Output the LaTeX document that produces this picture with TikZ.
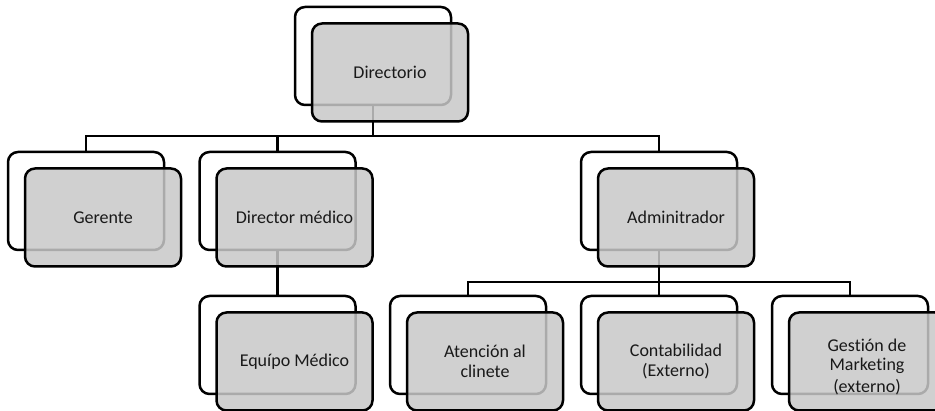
\documentclass[tikz,border=0pt]{standalone}
\usepackage{fontspec}
\setmainfont{Carlito}[Ligatures=NoCommon]
\definecolor{boxgray}{RGB}{200,200,200}
\tikzset{
  backbox/.style={draw=black, fill=white, line width=2.5pt, rounded corners=10pt,
    minimum width=156pt, minimum height=98pt, inner sep=0pt},
  frontbox/.style={backbox, fill=boxgray, fill opacity=0.85, text opacity=1,
    text=black!90, font=\fontsize{18}{20}\selectfont, align=center},
  label/.style={text=black!90, font=\fontsize{18}{19}\selectfont, align=center, inner sep=0pt},
  link/.style={line width=2.5pt}
}
\begin{document}
\begin{tikzpicture}[x=1pt, y=-1pt]
  \useasboundingbox (0,0) rectangle (935,411);
  \clip (0,0) rectangle (935,411);

  % back (outline) cards
  \node[backbox] (dirB) at (373,56)    {};
  \node[backbox] (gerB) at (86,201)    {};
  \node[backbox] (dmB)  at (277.5,201) {};
  \node[backbox] (admB) at (659,201)   {};
  \node[backbox] (eqB)  at (277.5,345) {};
  \node[backbox] (atB)  at (468,345)   {};
  \node[backbox] (coB)  at (659,345)   {};
  \node[backbox] (geB)  at (850,345)   {};

  % bus levels
  \coordinate (busTop) at (0,136);
  \coordinate (busLow) at (0,282);

  % connectors
  \draw[link] (dirB.south) -- (dirB.south |- busTop) -| (gerB.north);
  \draw[link] (dirB.south |- busTop) -| (dmB.north);
  \draw[link] (dirB.south |- busTop) -| (admB.north);
  \draw[link] (dmB.south) -- (eqB.north);
  \draw[link] (admB.south) -- (admB.south |- busLow) -| (atB.north);
  \draw[link] (admB.south |- busLow) -- (coB.north);
  \draw[link] (admB.south |- busLow) -| (geB.north);

  % front (shaded) cards with labels
  \node[frontbox] (dirF) at ([shift={(17,16.5)}]dirB.center) {Directorio};
  \node[frontbox] (gerF) at ([shift={(17,16.5)}]gerB.center) {Gerente};
  \node[frontbox] (dmF)  at ([shift={(17,16.5)}]dmB.center)  {Director médico};
  \node[frontbox] (admF) at ([shift={(17,16.5)}]admB.center) {Adminitrador};
  \node[frontbox] (eqF)  at ([shift={(17,16.5)}]eqB.center)  {Equípo Médico};
  \node[frontbox] (atF)  at ([shift={(17,16.5)}]atB.center)  {Atención al\\clinete};
  \node[frontbox] (coF)  at ([shift={(17,16.5)}]coB.center)  {Contabilidad\\(Externo)};
  \node[frontbox] (geF)  at ([shift={(17,16.5)}]geB.center)  {};
  \node[label] (geT) at ([yshift=-6pt]geF.center) {Gestión de\\Marketing\\[3pt](externo)};
\end{tikzpicture}
\end{document}
